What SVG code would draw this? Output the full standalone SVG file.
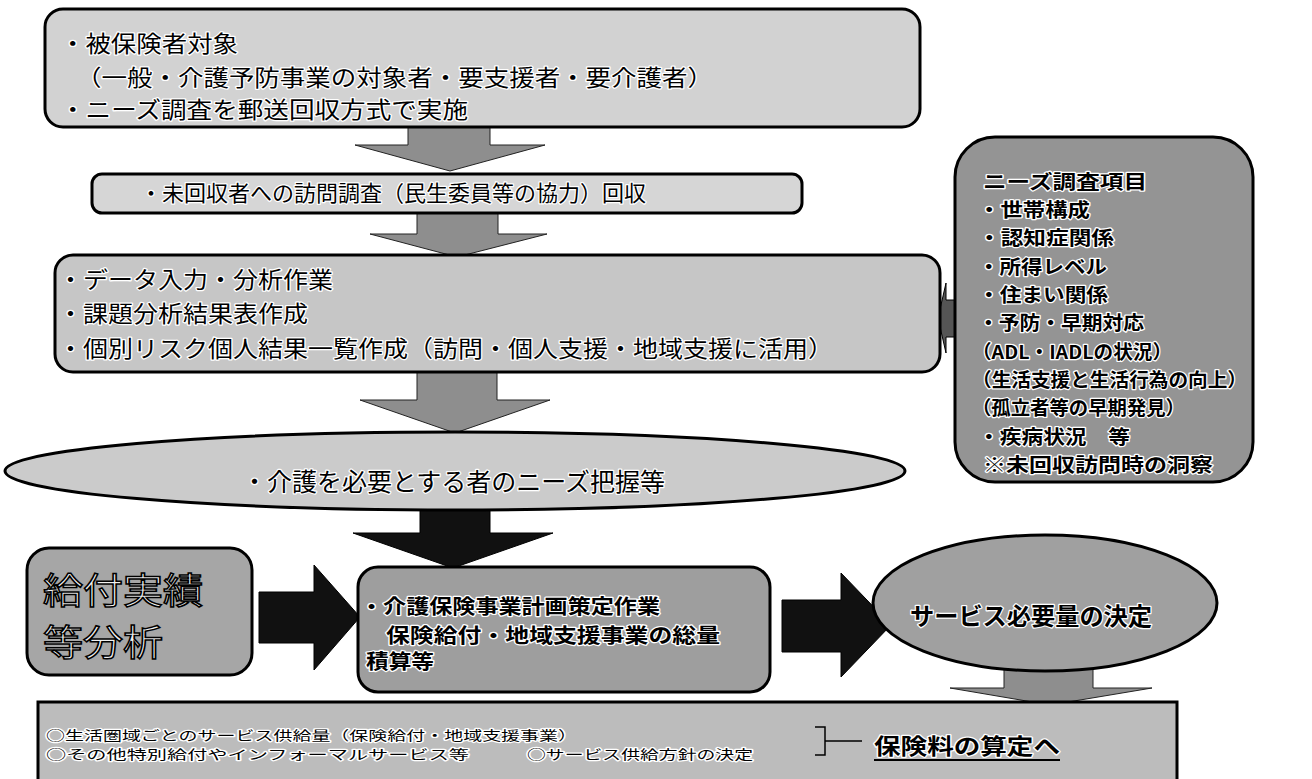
<svg xmlns="http://www.w3.org/2000/svg" width="1312" height="779" viewBox="0 0 1312 779">
<style>
 .box{stroke:#000;stroke-width:3}
 .t{font-family:'Noto Sans CJK JP','Noto Sans CJK SC',sans-serif;fill:#000;stroke:#fff;stroke-width:2.5;paint-order:stroke;stroke-linejoin:round}
 .b{font-weight:bold}
 .ga{fill:#8e8e8e;stroke:#222;stroke-width:1}
 .ba{fill:#111;stroke:#000;stroke-width:1}
</style>
<rect width="1312" height="779" fill="#fff"/>
<g id="connectors">
 <polygon class="ga" points="408,125 490,125 490,145 545,145 450,171 355,145 408,145"/>
 <polygon class="ga" points="417,212 498,212 498,234 547,234 457,257 370,234 417,234"/>
 <polygon class="ga" points="417,371 497,371 497,400 550,400 455,433 360,400 417,400"/>
 <polygon class="ba" points="420,508 490,508 490,533 553,533 453,568 353,533 420,533"/>
 <polygon class="ba" points="259,592 314,592 314,565 360,617 314,670 314,643 259,643"/>
 <polygon class="ba" points="782,600 841,600 841,573 891,625 841,677 841,652 782,652"/>
 <polygon class="ga" points="1004,665 1093,665 1093,688 1152,688 1050,705 950,688 1004,688"/>
 <polygon fill="#555" stroke="#000" stroke-width="1" points="957,300 946,300 946,283 938,318 946,353 946,337 957,337"/>
</g>
<g id="n-top">
 <rect class="box" x="45" y="9" width="875" height="118" rx="18" fill="#d2d2d2"/>
 <text class="t" x="60" y="52" font-size="22.5" textLength="178" lengthAdjust="spacingAndGlyphs">・被保険者対象</text>
 <text class="t" x="76" y="86" font-size="22.5" textLength="637" lengthAdjust="spacingAndGlyphs">（一般・介護予防事業の対象者・要支援者・要介護者）</text>
 <text class="t" x="60" y="118" font-size="22.5" textLength="408" lengthAdjust="spacingAndGlyphs">・ニーズ調査を郵送回収方式で実施</text>
</g>
<g id="n-revisit">
 <rect class="box" x="92" y="174" width="710" height="39" rx="10" fill="#d6d6d6"/>
 <text class="t" x="140" y="201" font-size="22">・未回収者への訪問調査（民生委員等の協力）回収</text>
</g>
<g id="n-analysis">
 <rect class="box" x="55" y="255" width="885" height="117" rx="18" fill="#c6c6c6"/>
 <text class="t" x="58" y="288" font-size="23" textLength="275" lengthAdjust="spacingAndGlyphs">・データ入力・分析作業</text>
 <text class="t" x="58" y="322" font-size="23" textLength="250" lengthAdjust="spacingAndGlyphs">・課題分析結果表作成</text>
 <text class="t" x="58" y="357" font-size="23" textLength="775" lengthAdjust="spacingAndGlyphs">・個別リスク個人結果一覧作成（訪問・個人支援・地域支援に活用）</text>
</g>
<g id="n-needs">
 <ellipse class="box" cx="455" cy="471" rx="450" ry="39" fill="#cbcbcb"/>
 <text class="t" x="242" y="491" font-size="25">・介護を必要とする者のニーズ把握等</text>
</g>
<g id="n-items">
 <rect class="box" x="955" y="137" width="298" height="345" rx="40" fill="#949494"/>
 <g class="t b" font-size="19">
  <text x="983" y="189" textLength="164" lengthAdjust="spacingAndGlyphs">ニーズ調査項目</text>
  <text x="978" y="217" textLength="112" lengthAdjust="spacingAndGlyphs">・世帯構成</text>
  <text x="978" y="245" textLength="136" lengthAdjust="spacingAndGlyphs">・認知症関係</text>
  <text x="978" y="274" textLength="129" lengthAdjust="spacingAndGlyphs">・所得レベル</text>
  <text x="978" y="302" textLength="130" lengthAdjust="spacingAndGlyphs">・住まい関係</text>
  <text x="978" y="330" textLength="166" lengthAdjust="spacingAndGlyphs">・予防・早期対応</text>
  <text x="972" y="359" textLength="200" lengthAdjust="spacingAndGlyphs">（ADL・IADLの状況）</text>
  <text x="972" y="387" textLength="275" lengthAdjust="spacingAndGlyphs">（生活支援と生活行為の向上）</text>
  <text x="972" y="415" textLength="213" lengthAdjust="spacingAndGlyphs">（孤立者等の早期発見）</text>
  <text x="978" y="444" textLength="152" lengthAdjust="spacingAndGlyphs">・疾病状況　等</text>
  <text x="983" y="472" textLength="230" lengthAdjust="spacingAndGlyphs">※未回収訪問時の洞察</text>
 </g>
</g>
<g id="n-benefit">
 <rect class="box" x="27" y="548" width="225" height="127" rx="22" fill="#a6a6a6"/>
 <text x="43" y="604" font-size="36" textLength="160" lengthAdjust="spacingAndGlyphs" font-family="'Noto Sans CJK JP',sans-serif" fill="#f2f2f2" stroke="#000" stroke-width="1.5">給付実績</text>
 <text x="43" y="656" font-size="36" textLength="120" lengthAdjust="spacingAndGlyphs" font-family="'Noto Sans CJK JP',sans-serif" fill="#f2f2f2" stroke="#000" stroke-width="1.5">等分析</text>
</g>
<g id="n-plan">
 <rect class="box" x="358" y="567" width="412" height="125" rx="20" fill="#9e9e9e"/>
 <text class="t b" x="360" y="614" font-size="20" textLength="300" lengthAdjust="spacingAndGlyphs">・介護保険事業計画策定作業</text>
 <text class="t b" x="386" y="643" font-size="20" textLength="334" lengthAdjust="spacingAndGlyphs">保険給付・地域支援事業の総量</text>
 <text class="t b" x="366" y="669" font-size="20" textLength="68" lengthAdjust="spacingAndGlyphs">積算等</text>
</g>
<g id="n-service">
 <ellipse class="box" cx="1045" cy="603" rx="172" ry="68" fill="#a0a0a0"/>
 <text class="t b" x="910" y="625" font-size="24" textLength="242" lengthAdjust="spacingAndGlyphs">サービス必要量の決定</text>
</g>
<g id="n-supply">
 <rect class="box" x="38" y="702" width="1139" height="90" fill="#bcbcbc"/>
 <text class="t" x="46" y="740" font-size="13" textLength="531" lengthAdjust="spacingAndGlyphs">○生活圏域ごとのサービス供給量（保険給付・地域支援事業）</text>
 <text class="t" x="46" y="759" font-size="13" textLength="423" lengthAdjust="spacingAndGlyphs">○その他特別給付やインフォーマルサービス等</text>
 <text class="t" x="527" y="759" font-size="13" textLength="226" lengthAdjust="spacingAndGlyphs">○サービス供給方針の決定</text>
 <path d="M815,727 H825 V755 H815 M825,741 H862" fill="none" stroke="#000" stroke-width="1.5"/>
 <text class="t b" x="874" y="754" font-size="22" textLength="186" lengthAdjust="spacingAndGlyphs">保険料の算定へ</text>
 <line x1="874" y1="760" x2="1060" y2="760" stroke="#000" stroke-width="2"/>
</g>
</svg>
